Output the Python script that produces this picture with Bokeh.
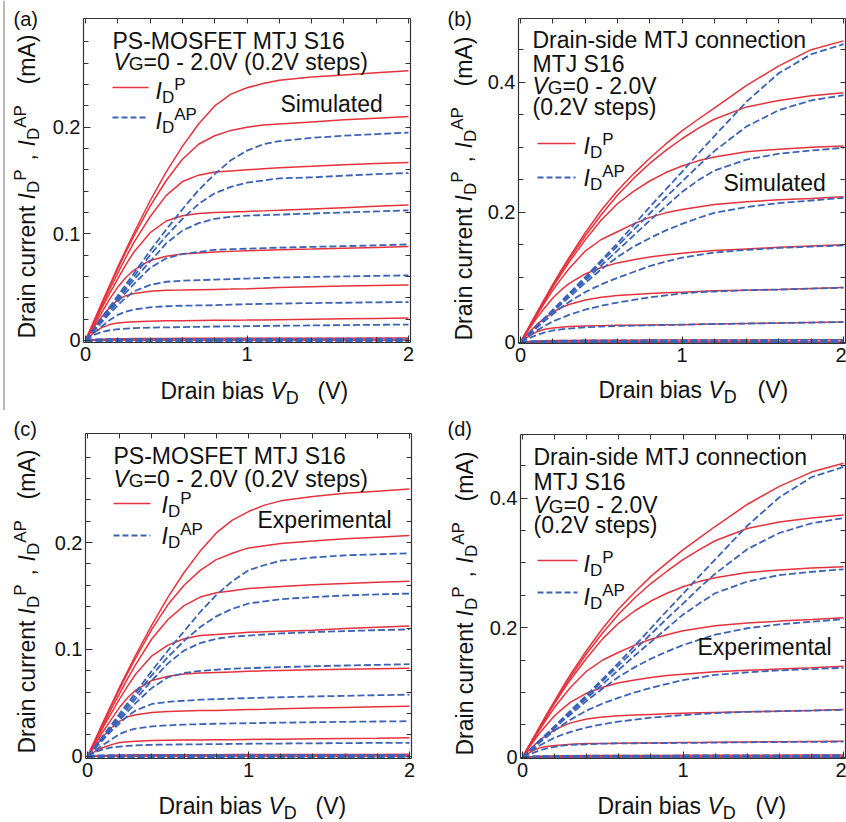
import math
from bokeh.plotting import figure
from bokeh.models import Label, Arrow, LinearAxis, FixedTicker
from bokeh.layouts import column, row
from bokeh.embed import file_html
from bokeh.resources import INLINE

# ---------------- data ----------------
VD = [0.0, 0.05, 0.1, 0.15, 0.2, 0.25, 0.3, 0.4, 0.5, 0.6, 0.7, 0.8, 0.9, 1.0, 1.1, 1.2, 1.4, 1.6, 1.8, 2.0]
VG = [0.0, 0.2, 0.4, 0.6, 0.8, 1.0, 1.2, 1.4, 1.6, 1.8, 2.0]
ZERO = [0.0] * 20

# (a) PS-MOSFET, simulated  (drain current in mA, one row per VG)
a_P = [ZERO, ZERO, ZERO,
       [0, .0005, .001, .0013, .0015, .0016, .0017, .0018, .0018, .0019, .0019, .0019, .002, .002, .002, .002, .0021, .0021, .0022, .0022],
       [0, .007, .012, .0148, .0163, .0170, .0175, .018, .0183, .0185, .0187, .0188, .0189, .019, .0192, .0194, .0198, .0202, .0206, .021],
       [0, .012, .022, .031, .038, .042, .044, .046, .047, .0472, .0475, .0478, .0481, .0485, .049, .0495, .0502, .0509, .0515, .052],
       [0, .013, .026, .039, .050, .059, .066, .075, .079, .081, .082, .083, .0835, .084, .0845, .085, .0857, .0865, .0872, .088],
       [0, .015, .030, .044, .058, .071, .083, .101, .112, .117, .119, .120, .1205, .121, .1215, .122, .1233, .1245, .1258, .127],
       [0, .016, .032, .048, .063, .078, .092, .116, .136, .149, .155, .158, .159, .160, .161, .162, .1633, .1647, .166, .167],
       [0, .017, .034, .051, .067, .083, .098, .126, .150, .170, .184, .192, .197, .200, .202, .203, .205, .207, .2085, .210],
       [0, .0175, .035, .052, .069, .085, .101, .131, .158, .182, .203, .220, .231, .237, .241, .244, .247, .249, .251, .253]]
a_AP = [ZERO, ZERO, ZERO,
        [0, .0003, .0006, .0008, .001, .0011, .0012, .0013, .0013, .0014, .0014, .0014, .0015, .0015, .0015, .0015, .0015, .0016, .0016, .0016],
        [0, .005, .008, .0095, .0105, .011, .0115, .012, .0122, .0125, .0127, .013, .0131, .0133, .0135, .0137, .014, .0143, .0146, .0148],
        [0, .007, .013, .019, .024, .027, .029, .031, .032, .0325, .0328, .033, .0335, .034, .0342, .0345, .035, .0353, .0357, .036],
        [0, .009, .017, .025, .033, .040, .046, .052, .055, .056, .0565, .057, .0575, .058, .0585, .059, .0595, .060, .0605, .061],
        [0, .009, .018, .027, .036, .045, .053, .068, .077, .081, .083, .085, .0855, .086, .0865, .087, .0877, .0884, .0892, .090],
        [0, .0095, .019, .029, .038, .048, .057, .074, .091, .103, .110, .114, .116, .117, .1175, .118, .119, .120, .121, .122],
        [0, .010, .020, .030, .040, .050, .060, .080, .098, .114, .128, .138, .144, .148, .150, .152, .153, .1545, .156, .157],
        [0, .0105, .021, .0315, .042, .0525, .063, .084, .104, .123, .141, .156, .169, .178, .184, .187, .190, .192, .1935, .195]]

# (b) drain-side MTJ connection, simulated
b_P = [ZERO, ZERO, ZERO,
       [0, .001, .0018, .0022, .0025, .0027, .0028, .003, .003, .0031, .0031, .0032, .0032, .0033, .0033, .0034, .0035, .0036, .0037, .0038],
       [0, .009, .016, .020, .022, .023, .024, .025, .0255, .026, .0262, .0265, .0268, .027, .0275, .028, .0288, .0295, .0303, .031],
       [0, .014, .027, .037, .046, .053, .058, .065, .069, .072, .0735, .075, .076, .077, .078, .079, .080, .081, .0825, .084],
       [0, .019, .037, .053, .068, .080, .090, .105, .115, .122, .127, .131, .134, .137, .139, .141, .1435, .146, .148, .150],
       [0, .021, .041, .061, .080, .097, .113, .140, .158, .170, .182, .192, .199, .204, .208, .212, .216, .219, .221, .2236],
       [0, .0215, .043, .064, .085, .104, .123, .157, .188, .213, .232, .248, .261, .271, .279, .285, .293, .297, .300, .302],
       [0, .022, .044, .066, .087, .107, .127, .163, .196, .226, .252, .275, .295, .313, .329, .343, .362, .372, .379, .3836],
       [0, .0225, .045, .067, .089, .110, .130, .168, .203, .233, .259, .283, .305, .325, .343, .360, .395, .425, .450, .4636]]
b_AP = [ZERO, ZERO, ZERO,
        [0, .0006, .0012, .0016, .002, .0022, .0024, .0026, .0027, .0028, .0029, .003, .003, .0031, .0031, .0032, .0033, .0034, .0035, .0036],
        [0, .006, .011, .015, .018, .0197, .021, .023, .024, .025, .0255, .026, .0265, .027, .0275, .028, .0287, .0295, .0302, .031],
        [0, .009, .018, .025, .032, .037, .042, .050, .056, .061, .065, .069, .072, .075, .077, .078, .080, .081, .0825, .084],
        [0, .011, .022, .033, .043, .053, .062, .077, .089, .099, .108, .117, .124, .130, .134, .138, .142, .145, .147, .149],
        [0, .012, .024, .036, .047, .058, .069, .091, .112, .131, .147, .160, .172, .182, .191, .199, .208, .214, .218, .222],
        [0, .012, .024, .036, .048, .060, .072, .095, .118, .141, .164, .187, .209, .231, .249, .264, .281, .290, .295, .299],
        [0, .0125, .025, .037, .049, .061, .074, .098, .123, .148, .173, .198, .223, .247, .271, .294, .332, .357, .372, .380],
        [0, .0125, .025, .0375, .050, .0625, .075, .100, .126, .152, .180, .208, .235, .262, .290, .317, .370, .414, .443, .4585]]

# (c) PS-MOSFET, experimental
c_P = [ZERO, ZERO, ZERO,
       [0, .0004, .0008, .001, .0012, .0013, .0014, .0015, .0015, .0016, .0016, .0016, .0017, .0017, .0017, .0017, .0018, .0018, .0018, .0019],
       [0, .005, .0085, .011, .013, .0137, .0142, .0148, .015, .0152, .0153, .0155, .0156, .0158, .016, .0161, .0164, .0167, .017, .0174],
       [0, .010, .019, .027, .033, .037, .039, .041, .042, .0425, .0428, .043, .0434, .0438, .0441, .0445, .0452, .0458, .0463, .0468],
       [0, .012, .024, .035, .046, .055, .062, .071, .075, .077, .078, .0785, .079, .0795, .080, .0803, .081, .0815, .082, .0825],
       [0, .014, .028, .041, .054, .066, .077, .094, .104, .110, .113, .114, .115, .116, .1165, .117, .118, .1195, .1207, .1219],
       [0, .015, .030, .045, .059, .073, .086, .110, .128, .141, .149, .153, .155, .157, .158, .159, .1605, .1617, .1628, .1637],
       [0, .016, .032, .048, .063, .078, .092, .119, .142, .160, .174, .184, .190, .195, .197, .199, .2015, .2035, .205, .2065],
       [0, .0165, .033, .049, .065, .080, .095, .123, .149, .172, .192, .209, .221, .229, .235, .239, .243, .246, .248, .250]]
c_AP = [ZERO, ZERO, ZERO,
        [0, .0003, .0005, .0007, .0008, .0009, .001, .0011, .0011, .0012, .0012, .0012, .0012, .0012, .0013, .0013, .0013, .0013, .0014, .0014],
        [0, .004, .0068, .0083, .0092, .0098, .0103, .0108, .011, .0112, .0113, .0115, .0116, .0118, .0119, .012, .0122, .0124, .0126, .0127],
        [0, .006, .011, .016, .021, .024, .026, .028, .029, .0297, .0301, .0305, .0308, .031, .0313, .0315, .0319, .0323, .0326, .0329],
        [0, .008, .016, .024, .031, .038, .043, .049, .051, .052, .053, .0535, .054, .0545, .055, .0553, .056, .0566, .0572, .0577],
        [0, .009, .017, .026, .034, .042, .050, .064, .074, .078, .080, .081, .082, .0825, .083, .0835, .0843, .085, .0856, .0862],
        [0, .009, .018, .027, .036, .045, .054, .071, .087, .099, .106, .110, .112, .113, .114, .115, .1162, .1172, .118, .1188],
        [0, .0095, .019, .0285, .038, .0475, .057, .076, .093, .108, .121, .131, .138, .143, .145, .147, .149, .1505, .1515, .1523],
        [0, .010, .020, .030, .040, .050, .060, .080, .099, .117, .135, .151, .164, .174, .179, .183, .186, .188, .189, .190]]

# (d) drain-side MTJ connection, experimental
d_P = [ZERO, ZERO, ZERO,
       [0, .0008, .0015, .0018, .002, .0022, .0023, .0025, .0026, .0027, .0027, .0028, .0028, .0029, .0029, .003, .0031, .0032, .0033, .0034],
       [0, .008, .014, .0165, .018, .019, .020, .021, .021, .0215, .0218, .022, .0222, .0225, .0228, .023, .0235, .024, .0243, .0247],
       [0, .013, .025, .034, .042, .048, .053, .059, .062, .064, .065, .066, .067, .068, .0685, .069, .070, .071, .072, .0736],
       [0, .018, .035, .050, .064, .075, .085, .099, .108, .115, .119, .123, .126, .128, .130, .132, .134, .136, .138, .1405],
       [0, .020, .040, .059, .077, .093, .108, .133, .150, .162, .173, .182, .189, .195, .199, .203, .207, .210, .2125, .2152],
       [0, .021, .042, .063, .083, .102, .120, .153, .183, .207, .226, .241, .253, .263, .271, .277, .285, .289, .292, .294],
       [0, .0215, .043, .064, .085, .105, .124, .160, .192, .221, .246, .268, .287, .305, .320, .334, .353, .363, .369, .3737],
       [0, .022, .044, .066, .087, .108, .128, .165, .199, .229, .255, .279, .300, .320, .338, .356, .390, .418, .440, .4536]]
d_AP = [ZERO, ZERO, ZERO,
        [0, .0005, .001, .0014, .0017, .0019, .002, .0022, .0023, .0024, .0024, .0025, .0025, .0026, .0026, .0027, .0028, .0029, .003, .003],
        [0, .005, .010, .0135, .016, .0178, .019, .020, .021, .0213, .0215, .0218, .0219, .022, .0222, .0225, .023, .0234, .0237, .024],
        [0, .009, .017, .024, .030, .035, .039, .046, .051, .055, .058, .061, .063, .065, .0665, .068, .070, .071, .072, .073],
        [0, .011, .021, .031, .041, .050, .058, .072, .083, .092, .100, .107, .113, .119, .123, .127, .131, .134, .136, .138],
        [0, .0115, .023, .034, .045, .056, .066, .087, .106, .124, .139, .152, .163, .173, .181, .189, .199, .205, .209, .213],
        [0, .0115, .023, .0345, .046, .0575, .069, .091, .113, .135, .157, .178, .199, .220, .237, .253, .271, .281, .286, .290],
        [0, .012, .024, .0355, .047, .059, .071, .094, .118, .142, .166, .190, .214, .237, .261, .283, .321, .346, .361, .369],
        [0, .012, .024, .036, .048, .060, .072, .096, .121, .146, .172, .199, .226, .252, .279, .305, .357, .401, .432, .448]]

X_TICKS = [0, 1, 2]
X_MINOR = [0.2, 0.4, 0.6, 0.8, 1.2, 1.4, 1.6, 1.8]
Y_TICKS_AC = [0, 0.1, 0.2]
Y_MINOR_AC = [0.02, 0.04, 0.06, 0.08, 0.12, 0.14, 0.16, 0.18, 0.22, 0.24, 0.26, 0.28]
Y_TICKS_BD = [0, 0.2, 0.4]
Y_MINOR_BD = [0.05, 0.1, 0.15, 0.25, 0.3, 0.35, 0.45]

for name, tbl in (("a_P", a_P), ("a_AP", a_AP), ("b_P", b_P), ("b_AP", b_AP),
                  ("c_P", c_P), ("c_AP", c_AP), ("d_P", d_P), ("d_AP", d_AP)):
    assert len(tbl) == len(VG), name
    for i, r in enumerate(tbl):
        assert len(r) == len(VD), (name, i, len(r))

# ---------------- style ----------------
RED = "#e5323c"
BLUE = "#3a63b8"
FONT = "Liberation Sans"
TXT = "#111111"
FRAME = "#333333"
BIG = 23
SUB = 17
BASE_FIX = 0.3  # em; compensates where the browser draws the alphabetic baseline

CW = {' ': 278, ',': 278, '-': 333, '.': 278, '(': 333, ')': 333, '=': 584,
      'A': 667, 'C': 722, 'D': 722, 'E': 667, 'F': 611, 'G': 778, 'I': 278, 'J': 500,
      'M': 833, 'O': 778, 'P': 667, 'S': 667, 'T': 611, 'V': 667,
      'a': 556, 'b': 556, 'c': 500, 'd': 556, 'e': 556, 'i': 222, 'l': 222, 'm': 833,
      'n': 556, 'o': 556, 'p': 556, 'r': 333, 's': 500, 't': 278, 'u': 556, 'x': 500}


def tw(s, size):
    return sum(CW.get(ch, 556) for ch in s) / 1000.0 * size


def style_axis(ax, tick_in, minor_in):
    ax.major_tick_in = tick_in
    ax.major_tick_out = 0
    ax.minor_tick_in = minor_in
    ax.minor_tick_out = 0
    ax.axis_line_color = FRAME
    ax.axis_line_width = 1.2
    ax.major_tick_line_color = FRAME
    ax.minor_tick_line_color = FRAME
    ax.major_label_text_font = FONT
    ax.major_label_text_font_size = "20px"
    ax.major_label_text_color = TXT


class Panel:
    """One quadrant; the plot box (fl..fr, ft..fb in window px) shows bx, by."""

    def __init__(self, w, h, ox, oy, fl, ft, fr, fb, bx, by, yt, ymin, ylab):
        self.fl, self.ft, self.fr, self.fb = fl, ft, fr, fb
        self.bx, self.by = bx, by
        sx = (fr - fl) / (bx[1] - bx[0])
        sy = (fb - ft) / (by[1] - by[0])
        xr = (bx[0] - (fl - ox) / sx, bx[1] + (ox + w - fr) / sx)
        yr = (by[0] - (oy + h - fb) / sy, by[1] + (ft - oy) / sy)
        p = figure(width=w, height=h, x_range=xr, y_range=yr,
                   output_backend="svg", toolbar_location=None, tools="",
                   min_border=0, min_border_left=0, min_border_right=0,
                   min_border_top=0, min_border_bottom=0)
        p.grid.visible = False
        p.background_fill_color = "white"
        p.border_fill_color = "white"
        p.outline_line_color = None

        xax = p.xaxis[0]
        xax.ticker = FixedTicker(ticks=X_TICKS, minor_ticks=X_MINOR)
        xax.major_label_overrides = {0: "0", 1: "1", 2: "2"}
        xax.fixed_location = by[0]
        xax.bounds = bx
        style_axis(xax, 7, 5)
        xax.major_label_standoff = 4

        yax = p.yaxis[0]
        yax.ticker = FixedTicker(ticks=yt, minor_ticks=ymin)
        yax.major_label_overrides = ylab
        yax.fixed_location = bx[0]
        yax.bounds = by
        style_axis(yax, 7, 5)
        yax.major_label_standoff = 3

        right = LinearAxis(ticker=FixedTicker(ticks=[], minor_ticks=yt + ymin),
                           fixed_location=bx[1], bounds=by)
        style_axis(right, 0, 5)
        p.add_layout(right, "right")
        top = LinearAxis(ticker=FixedTicker(ticks=[], minor_ticks=X_TICKS + X_MINOR),
                         fixed_location=by[1], bounds=bx)
        style_axis(top, 0, 5)
        p.add_layout(top, "above")
        self.p = p

    def d(self, px, py):
        x0, x1 = self.bx
        y0, y1 = self.by
        return (x0 + (px - self.fl) / (self.fr - self.fl) * (x1 - x0),
                y0 + (self.fb - py) / (self.fb - self.ft) * (y1 - y0))

    def put(self, text, px, py, size=BIG, style="normal", angle=0.0):
        if angle == 0.0:
            py -= BASE_FIX * size
        else:
            px -= BASE_FIX * size
        x, y = self.d(px, py)
        self.p.add_layout(Label(x=x, y=y, text=text, text_font=FONT,
                                text_font_size=f"{size}px", text_font_style=style,
                                text_color=TXT, text_baseline="alphabetic",
                                text_align="left", angle=angle, angle_units="rad"))

    def rich(self, pieces, px, py, angle=0.0):
        for text, size, style, shift in pieces:
            if angle == 0.0:
                self.put(text, px, py + shift, size, style)
                px += tw(text, size)
            else:
                self.put(text, px + shift, py, size, style, angle)
                py -= tw(text, size)

    def seg(self, px0, py0, px1, py1, color, width, dash="solid"):
        x0, y0 = self.d(px0, py0)
        x1, y1 = self.d(px1, py1)
        self.p.add_layout(Arrow(end=None, x_start=x0, y_start=y0, x_end=x1, y_end=y1,
                                line_color=color, line_width=width, line_dash=dash))

    def curves(self, P, AP):
        for r in P:
            self.p.line(VD, r, line_color=RED, line_width=1.5)
        for r in AP:
            # the curves lying on the zero line overlap into a thick blue band
            w = 3.0 if max(r) < 0.001 else 1.8
            self.p.line(VD, r, line_color=BLUE, line_width=w, line_dash="7 3")


def ID(sup):
    return [("I", BIG, "italic", 0), ("D", SUB, "normal", 5), (sup, SUB, "normal", -8)]


def VGtxt(rest):
    return [("V", BIG, "italic", 0), ("G", 19, "normal", 1), (rest, BIG, "normal", 0)]


def common(P, bx, by, lx, legx0, legx1, legy1, legy2, idx, idy1, idy2, ylx, yly):
    # x-axis title
    P.rich([("Drain bias ", BIG, "normal", 0), ("V", BIG, "italic", 0), ("D", 18, "normal", 6)], bx, by)
    P.put("(V)", lx, by)
    # y-axis title (rotated)
    a = math.pi / 2
    P.put("Drain current ", ylx, yly, BIG, "normal", a)
    P.rich(ID("P"), ylx, yly - 139, a)
    P.put(",", ylx, yly - 178, BIG, "normal", a)
    P.rich(ID("AP"), ylx, yly - 192, a)
    P.put("(mA)", ylx, yly - 254, BIG, "normal", a)
    # legend
    P.seg(legx0, legy1, legx1, legy1, RED, 1.5)
    P.seg(legx0, legy2, legx1, legy2, BLUE, 1.8, "6 3")
    P.rich(ID("P"), idx, idy1)
    P.rich(ID("AP"), idx, idy2)


LAB_AC = {0: "0", 0.1: "0.1", 0.2: "0.2"}
LAB_BD = {0: "0", 0.2: "0.2", 0.4: "0.4"}
BX = (-0.0125, 2.0125)
BY_AC = (-0.002, 0.302)
BY_BD = (-0.002, 0.498)

# ---- (a)
A = Panel(420, 410, 0, 0, 83, 18, 410, 342, BX, BY_AC, Y_TICKS_AC, Y_MINOR_AC, LAB_AC)
A.curves(a_P, a_AP)
A.put("(a)", 13, 24, 20)
A.put("PS-MOSFET MTJ S16", 112, 47)
A.rich(VGtxt("=0 - 2.0V (0.2V steps)"), 113, 68)
A.put("Simulated", 280, 110)
common(A, 160, 397, 317, 112, 148, 87, 117, 155, 97, 127, 33, 338)
A.seg(3.5, 0, 3.5, 410, "#8a8a8a", 1.2)

# ---- (b)
B = Panel(426, 410, 420, 0, 518, 18, 845, 343, BX, BY_BD, Y_TICKS_BD, Y_MINOR_BD, LAB_BD)
B.curves(b_P, b_AP)
B.put("(b)", 447, 24, 20)
B.put("Drain-side MTJ connection", 532, 46)
B.put("MTJ S16", 532, 70)
B.rich(VGtxt("=0 - 2.0V"), 532, 92)
B.put("(0.2V steps)", 532, 113)
B.put("Simulated", 723, 189)
common(B, 598, 396, 757, 537, 575, 143, 177, 583, 152, 184, 470, 340)

# ---- (c)
C = Panel(420, 412, 0, 410, 85, 433, 411, 758, BX, BY_AC, Y_TICKS_AC, Y_MINOR_AC, LAB_AC)
C.curves(c_P, c_AP)
C.put("(c)", 13, 434, 20)
C.put("PS-MOSFET MTJ S16", 113, 462)
C.rich(VGtxt("=0 - 2.0V (0.2V steps)"), 113, 485)
C.put("Experimental", 257, 526)
common(C, 158, 812, 315, 113, 150, 503, 535, 161, 511, 542, 33, 753)

# ---- (d)
D = Panel(426, 412, 420, 410, 520, 434, 845, 758, BX, BY_BD, Y_TICKS_BD, Y_MINOR_BD, LAB_BD)
D.curves(d_P, d_AP)
D.put("(d)", 447, 434, 20)
D.put("Drain-side MTJ connection", 533, 463)
D.put("MTJ S16", 533, 488)
D.rich(VGtxt("=0 - 2.0V"), 533, 511)
D.put("(0.2V steps)", 533, 531)
D.put("Experimental", 697, 653)
common(D, 597, 812, 755, 537, 577, 560, 592, 583, 570, 603, 471, 755)

layout = column(row(A.p, B.p), row(C.p, D.p))
open("out.html", "w").write(file_html(layout, INLINE))
